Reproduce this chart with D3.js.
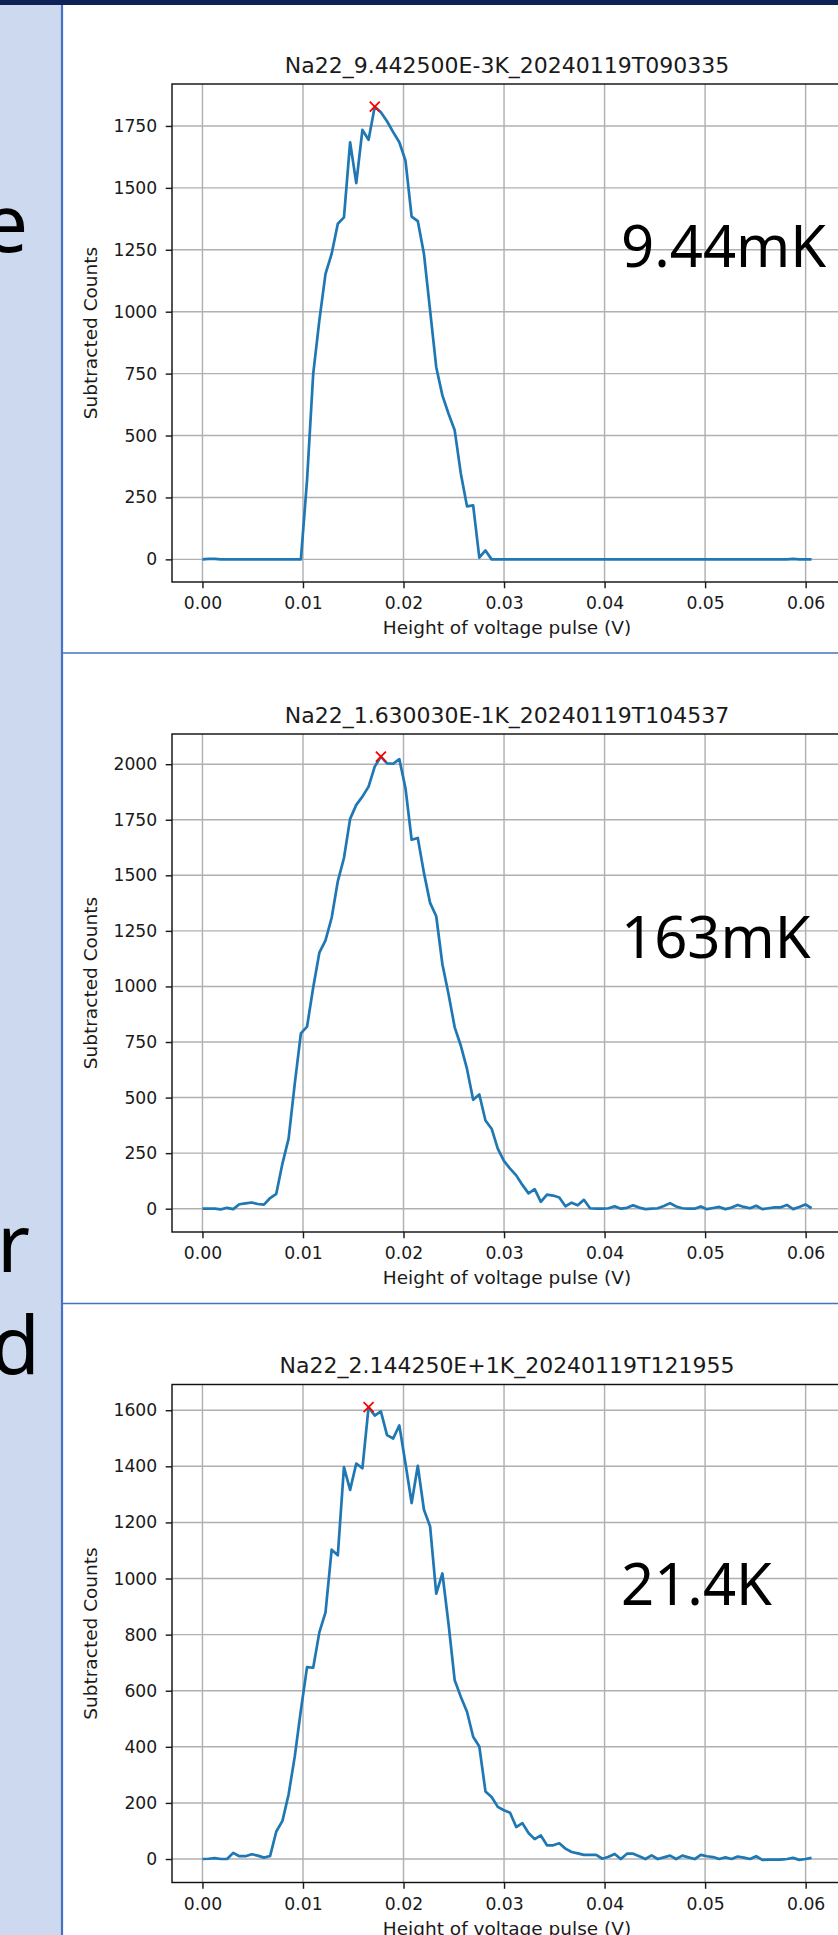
<!DOCTYPE html>
<html>
<head>
<meta charset="utf-8">
<script src="https://cdn.jsdelivr.net/npm/d3@7"></script>
<style>
	body { margin: 0; background: #fff; }
	svg { display: block; }
</style>
</head>
<body>
<div id="slide"></div>
<script>

// DATA
// pulse-height bin width (V): point i sits at i * binWidth
const binWidth = 0.000612;

const xTicks = [0, 0.01, 0.02, 0.03, 0.04, 0.05, 0.06];
const yTicks9mK = [0, 250, 500, 750, 1000, 1250, 1500, 1750];
const yTicks163mK = [0, 250, 500, 750, 1000, 1250, 1500, 1750, 2000];
const yTicks21K = [0, 200, 400, 600, 800, 1000, 1200, 1400, 1600];

const titles = [
	"Na22_9.442500E-3K_20240119T090335",
	"Na22_1.630030E-1K_20240119T104537",
	"Na22_2.144250E+1K_20240119T121955"
];
const tempLabels = ["9.44mK", "163mK", "21.4K"];
const sideLetters = ["e", "r", "d"];

const counts9mK = [
	0, 2, 2, 0, 0, 0, 0, 0, 0, 0,
	0, 0, 0, 0, 0, 0, 0, 320, 749, 965,
	1153, 1234, 1355, 1381, 1684, 1519, 1734, 1694, 1828, 1805,
	1769, 1725, 1684, 1610, 1384, 1366, 1234, 1005, 776, 662,
	588, 521, 346, 214, 218, 7, 36, 0, 0, 0,
	0, 0, 0, 0, 0, 0, 0, 0, 0, 0,
	0, 0, 0, 0, 0, 0, 0, 0, 0, 0,
	0, 0, 0, 0, 0, 0, 0, 0, 0, 0,
	0, 0, 0, 0, 0, 0, 0, 0, 0, 0,
	0, 0, 0, 0, 0, 0, 2, 0, 0, 0
];

const counts163mK = [
	0, 0, 0, -3, 4, -2, 20, 24, 28, 21,
	18, 48, 67, 203, 315, 562, 789, 819, 995, 1152,
	1207, 1309, 1473, 1578, 1754, 1817, 1854, 1899, 1989, 2034,
	2004, 2002, 2023, 1892, 1660, 1668, 1511, 1376, 1316, 1100,
	965, 816, 733, 629, 490, 514, 397, 360, 270, 215,
	180, 150, 107, 69, 88, 31, 63, 59, 50, 11,
	27, 15, 40, 2, 0, 0, 2, 11, 0, 4,
	15, 5, -2, 0, 2, 12, 25, 10, 2, 0,
	0, 10, -2, 3, 8, -2, 5, 17, 8, 2,
	13, -2, 2, 6, 6, 17, -2, 8, 19, 2
];

const counts21K = [
	0, 1, 3, 0, 0, 22, 10, 10, 17, 12,
	5, 11, 98, 136, 230, 365, 531, 684, 682, 808,
	879, 1103, 1083, 1397, 1316, 1410, 1393, 1611, 1581, 1596,
	1511, 1499, 1546, 1410, 1269, 1402, 1245, 1186, 946, 1018,
	838, 637, 578, 525, 436, 401, 241, 221, 186, 174,
	165, 114, 128, 93, 71, 84, 49, 49, 56, 37,
	25, 20, 15, 15, 15, 1, 8, 18, 0, 19,
	19, 10, 0, 13, 0, 6, 12, 0, 12, 6,
	0, 15, 10, 7, 0, 6, 0, 9, 5, 0,
	10, -3, -2, -2, -2, 0, 4, -3, 0, 4
];


// LAYOUT
const W = 838, H = 1935;
const panelTops = [3, 653, 1303.5];
const tempLabelBaselines = [267, 958, 1605];
const sideLetterPos = [[28, 252], [30, 1272], [40, 1374]];
const pt = 1.8;   // px per matplotlib point

const panels = [
	{ title: titles[0], label: tempLabels[0], counts: counts9mK, yTicks: yTicks9mK },
	{ title: titles[1], label: tempLabels[1], counts: counts163mK, yTicks: yTicks163mK },
	{ title: titles[2], label: tempLabels[2], counts: counts21K, yTicks: yTicks21K }
];


const svg = d3.select("#slide")
	.append("svg")
	.attr("width", W)
	.attr("height", H);

// SLIDE BACKGROUND
svg.append("rect").attr("width", W).attr("height", H).attr("fill", "#fff");
svg.append("rect")
	.attr("x", 0).attr("y", 0)
	.attr("width", 62).attr("height", H)
	.attr("fill", "#cdd9ee");
svg.append("line")
	.attr("x1", 62).attr("x2", 62)
	.attr("y1", 0).attr("y2", H)
	.attr("stroke", "#4472c4")
	.attr("stroke-width", 2.2);
svg.selectAll(".sep")
	.data(panelTops.slice(1))
	.join("line")
		.attr("class", "sep")
		.attr("x1", 62).attr("x2", W)
		.attr("y1", d => d).attr("y2", d => d)
		.attr("stroke", "#4472c4")
		.attr("stroke-width", 1.6);
svg.append("rect")
	.attr("x", 0).attr("y", 0)
	.attr("width", W).attr("height", 5)
	.attr("fill", "#0e2257");

// cut-off letters of the slide text on the left
svg.selectAll(".side")
	.data(sideLetters)
	.join("text")
		.attr("class", "side")
		.attr("x", (d, i) => sideLetterPos[i][0])
		.attr("y", (d, i) => sideLetterPos[i][1])
		.attr("text-anchor", "end")
		.attr("font-family", "Noto Sans")
		.attr("font-size", 80)
		.attr("fill", "#000")
		.text(d => d);


/** DRAW ONE MATPLOTLIB PANEL
	* axes box, grid, curve, peak marker, ticks, labels, title
	*/
function drawPanel(p, top, k) {
	const ax = { left: 172, top: top + 81, width: 670, height: 498 };
	const bottom = ax.top + ax.height;

	const xs = p.counts.map((d, i) => i * binWidth);
	const xMax = d3.max(xs);
	const [lo, hi] = d3.extent(p.counts);
	const yPad = 0.05 * (hi - lo);

	const x = d3.scaleLinear()
		.domain([-0.05 * xMax, xMax * 1.05])
		.range([ax.left, ax.left + ax.width]);
	const y = d3.scaleLinear()
		.domain([lo - yPad, hi + yPad])
		.range([bottom, ax.top]);

	const g = svg.append("g");

	// grid
	g.append("g")
		.selectAll("line")
		.data(xTicks)
		.join("line")
			.attr("x1", d => x(d)).attr("x2", d => x(d))
			.attr("y1", ax.top).attr("y2", bottom)
			.attr("stroke", "#b0b0b0")
			.attr("stroke-width", 0.8 * pt);
	g.append("g")
		.selectAll("line")
		.data(p.yTicks)
		.join("line")
			.attr("x1", ax.left).attr("x2", ax.left + ax.width)
			.attr("y1", d => y(d)).attr("y2", d => y(d))
			.attr("stroke", "#b0b0b0")
			.attr("stroke-width", 0.8 * pt);

	// curve
	const line = d3.line()
		.x((d, i) => x(xs[i]))
		.y(d => y(d));
	g.append("path")
		.datum(p.counts)
		.attr("d", line)
		.attr("fill", "none")
		.attr("stroke", "#1f77b4")
		.attr("stroke-width", 1.5 * pt)
		.attr("stroke-linejoin", "round");

	// peak marker
	const iMax = d3.maxIndex(p.counts);
	g.append("path")
		.attr("transform", `translate(${x(xs[iMax])},${y(p.counts[iMax])})`)
		.attr("d", "M-5,-5L5,5M-5,5L5,-5")
		.attr("stroke", "red")
		.attr("stroke-width", 1.8)
		.attr("fill", "none");

	// spines
	g.append("rect")
		.attr("x", ax.left).attr("y", ax.top)
		.attr("width", ax.width).attr("height", ax.height)
		.attr("fill", "none")
		.attr("stroke", "#111")
		.attr("stroke-width", 0.8 * pt);

	// axes
	const xAxis = g.append("g")
		.attr("transform", `translate(0,${bottom})`)
		.call(d3.axisBottom(x)
			.tickValues(xTicks)
			.tickFormat(d3.format(".2f"))
			.tickSize(3.5 * pt)
			.tickSizeOuter(0)
			.tickPadding(8.5));
	const yAxis = g.append("g")
		.attr("transform", `translate(${ax.left},0)`)
		.call(d3.axisLeft(y)
			.tickValues(p.yTicks)
			.tickFormat(d3.format("d"))
			.tickSize(3.5 * pt)
			.tickSizeOuter(0)
			.tickPadding(8.5));
	[xAxis, yAxis].forEach(a => {
		a.select(".domain").remove();
		a.attr("font-family", "DejaVu Sans")
			.attr("font-size", 17.2)
			.style("color", "#1a1a1a");
		a.selectAll("line").attr("stroke-width", 0.8 * pt);
	});

	// texts
	const cx = ax.left + ax.width / 2;
	g.append("text")
		.attr("x", cx).attr("y", ax.top - 11.5)
		.attr("text-anchor", "middle")
		.attr("font-family", "DejaVu Sans")
		.attr("font-size", 22)
		.attr("fill", "#1a1a1a")
		.text(p.title);
	g.append("text")
		.attr("x", cx).attr("y", bottom + 52)
		.attr("text-anchor", "middle")
		.attr("font-family", "DejaVu Sans")
		.attr("font-size", 18.5)
		.attr("fill", "#1a1a1a")
		.text("Height of voltage pulse (V)");
	g.append("text")
		.attr("transform", `translate(97,${ax.top + ax.height / 2}) rotate(-90)`)
		.attr("text-anchor", "middle")
		.attr("font-family", "DejaVu Sans")
		.attr("font-size", 18.5)
		.attr("fill", "#1a1a1a")
		.text("Subtracted Counts");

	// temperature label (slide text box)
	g.append("text")
		.attr("x", 621).attr("y", tempLabelBaselines[k])
		.attr("font-family", "Noto Sans")
		.attr("font-size", 58)
		.attr("fill", "#000")
		.text(p.label);
}

panels.forEach((p, k) => drawPanel(p, panelTops[k], k));
</script>
</body>
</html>
